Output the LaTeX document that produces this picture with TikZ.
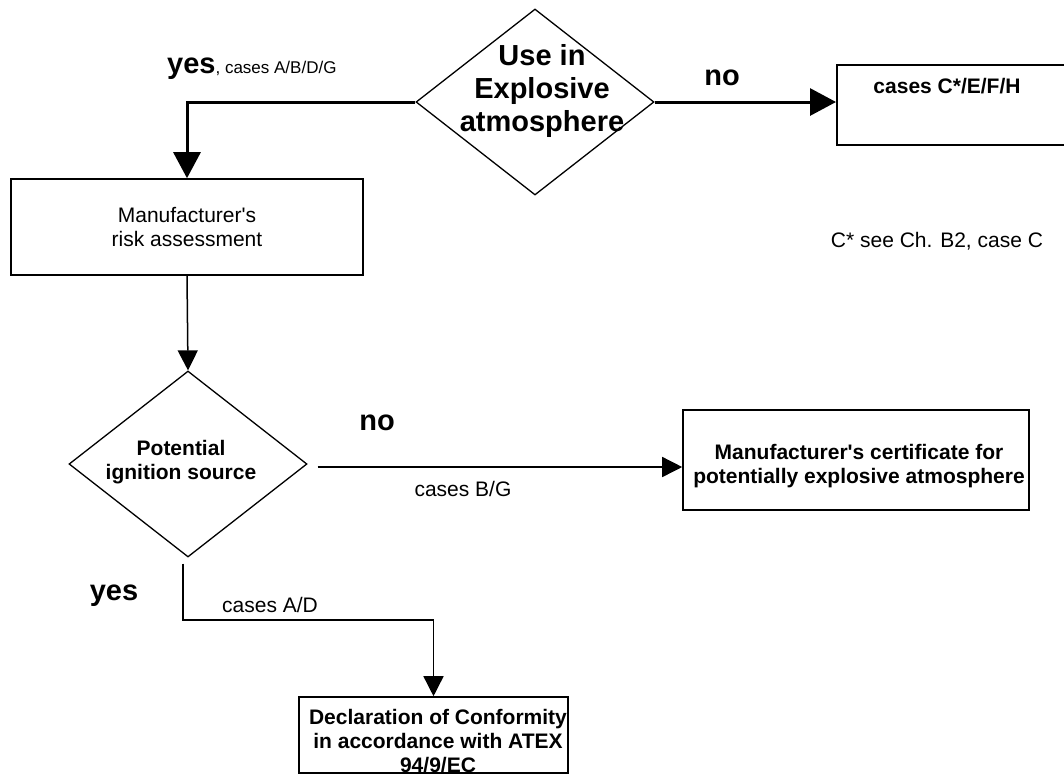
\documentclass[tikz,border=0pt]{standalone}
\usepackage{fontspec}
\setmainfont{Liberation Sans}
\usetikzlibrary{shapes.geometric,arrows.meta}

\begin{document}
\begin{tikzpicture}[x=1pt,y=-1pt,
    procbox/.style={draw, line width=1.6pt, inner sep=0pt},
    decision/.style={draw, diamond, line width=1.3pt, minimum width=238pt, minimum height=186pt, inner sep=0pt},
    bodytxt/.style={font=\fontsize{21}{24}\selectfont, align=center, inner sep=0pt},
    boldtxt/.style={font=\bfseries\fontsize{21}{24}\selectfont, align=center, inner sep=0pt},
    bigbold/.style={font=\bfseries\fontsize{29}{33}\selectfont, align=center, inner sep=0pt},
    thickarrow/.style={line width=3pt, -{Triangle[length=26pt,width=27pt]}},
    thinarrow/.style={line width=1.5pt, -{Triangle[length=20pt,width=20pt]}}]
    \useasboundingbox (0,0) rectangle (1064,777);

    % Explosive atmosphere question
    \node[decision] (use) at (535,102) {};
    \node[bigbold] (usetxt) at (542,91) {Use in\\Explosive\\atmosphere};

    % no -> cases C*/E/F/H
    \node[procbox, minimum width=232pt, minimum height=80pt, anchor=north west] (cefh) at (836,64) {};
    \node[boldtxt, anchor=base] (cefhtxt) at (947,93) {cases C*/E/F/H};
    \draw[thickarrow] (use.east) -- (use.east -| cefh.west);
    \node[bigbold, anchor=base] (notop) at (722,85) {no};
    \node[bodytxt, anchor=base] (cnote) at (937,247) {C* see Ch. B2, case C};

    % yes -> risk assessment
    \node[procbox, bodytxt, minimum width=352pt, minimum height=96pt] (mra) at (187,227) {Manufacturer\textquotesingle s\\risk assessment};
    \draw[thickarrow] (use.west) -| (mra.north);
    \node[bigbold, anchor=base west] (yestop) at (167,73) {yes{\normalfont\fontsize{17}{20}\selectfont, cases A/B/D/G}};

    % Ignition source question
    \node[decision] (pis) at (188,464) {};
    \node[boldtxt] (pistxt) at (181,462) {Potential\\ignition source};
    \draw[thinarrow] (mra.south) -- (pis.north);

    % no -> manufacturer's certificate
    \node[procbox, minimum width=346pt, minimum height=100pt] (cert) at (856,460) {};
    \node[boldtxt] (certtxt) at (859,466) {Manufacturer\textquotesingle s certificate for\\potentially explosive atmosphere};
    \coordinate (pisno) at ([shift={(10,3)}]pis.east);
    \draw[thinarrow] (pisno) -- (pisno -| cert.west);
    \node[bigbold, anchor=base] (nomid) at (377,430) {no};
    \node[bodytxt, anchor=base] (bgtxt) at (463,496) {cases B/G};

    % yes -> declaration of conformity
    \node[procbox, minimum width=269pt, minimum height=76pt] (decl) at (433.5,735) {};
    \node[boldtxt] (decltxt) at (438,741) {Declaration of Conformity\\in accordance with ATEX\\94/9/EC};
    \coordinate (pisyes) at ([shift={(-5,6)}]pis.south);
    \coordinate (adbend) at (433.5,620);
    \draw[thinarrow] (pisyes) |- (adbend) -- (decl.north);
    \node[bigbold, anchor=base] (yesbot) at (114,600) {yes};
    \node[bodytxt, anchor=base] (adtxt) at (270,612) {cases A/D};
\end{tikzpicture}
\end{document}
